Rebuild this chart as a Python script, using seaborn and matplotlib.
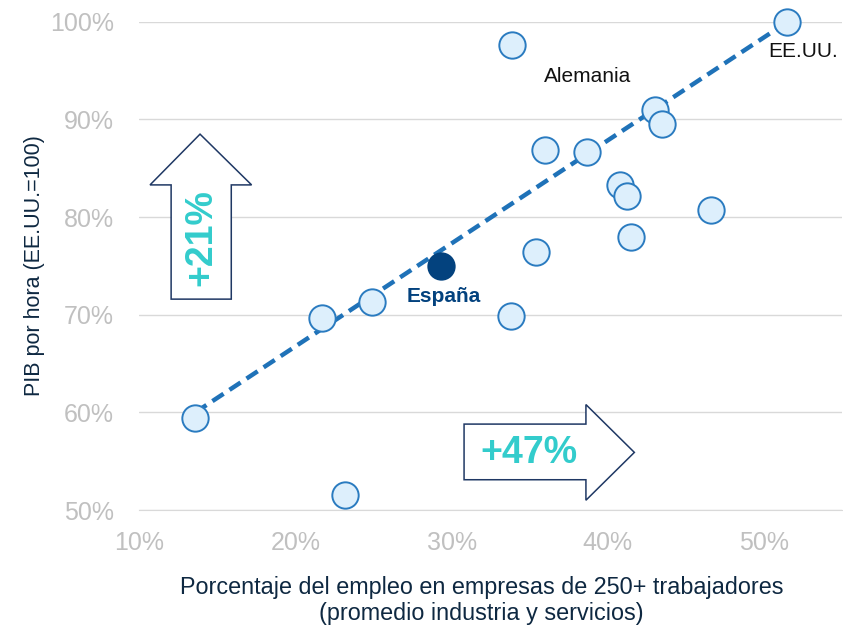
import pandas as pd
import matplotlib.pyplot as plt
import seaborn as sns
from matplotlib.patches import Polygon
from matplotlib.ticker import FuncFormatter

# Data (% employment in 250+ firms, GDP per hour US=100)
countries = ["", "", "", "", "España", "", "", "", "", "", "", "", "", "Alemania", "", "", "EE.UU."]
empleo_250 = [13.6, 21.7, 23.2, 24.9, 29.3, 33.8, 33.9, 35.4, 36.0, 38.7, 40.8, 41.2, 41.5, 43.0, 43.5, 46.6, 51.5]
pib_hora = [59.4, 69.7, 51.5, 71.3, 75.0, 69.9, 97.6, 76.4, 86.9, 86.7, 83.3, 82.2, 78.0, 91.0, 89.5, 80.7, 100.0]

# Trend line endpoints
trend_x = [13.6, 51.5]
trend_y = [60.0, 100.0]

x_ticks = [10, 20, 30, 40, 50]
y_ticks = [50, 60, 70, 80, 90, 100]

df = pd.DataFrame({"pais": countries, "empleo": empleo_250, "pib": pib_hora})
df["grupo"] = ["España" if c == "España" else "Otros" for c in countries]

sns.set_style("white")
plt.rcParams["font.family"] = ["Liberation Sans", "DejaVu Sans"]

fig = plt.figure(figsize=(8.43, 6.25), dpi=100)
ax = fig.add_axes([0.165, 0.184, 0.834, 0.781])

navy = "#0E2841"
blue = "#1F72B8"
grey = "#C0C0C0"
teal = "#33CCCC"

# Trend line
sns.lineplot(x=trend_x, y=trend_y, ax=ax, color=blue, lw=3.2, linestyle=(0, (3, 1.6)), zorder=2)

# Points
sns.scatterplot(data=df[df.grupo == "Otros"], x="empleo", y="pib", ax=ax, s=360,
                color="#DDEFFC", edgecolor="#2A7BC0", linewidth=1.4, zorder=3, clip_on=False)
sns.scatterplot(data=df[df.grupo == "España"], x="empleo", y="pib", ax=ax, s=360,
                color="#03427E", edgecolor="#03427E", linewidth=1.4, zorder=4, clip_on=False)

# Labels
ax.text(29.5, 71.9, "España", color="#03427E", fontsize=15, fontweight="bold", ha="center", va="center")
ax.text(38.7, 94.4, "Alemania", color="#111111", fontsize=15, ha="center", va="center")
ax.text(52.5, 97.0, "EE.UU.", color="#111111", fontsize=15, ha="center", va="center")

# Arrows
up = Polygon([(12.05, 71.6), (12.05, 83.3), (10.7, 83.3), (13.9, 88.5), (17.2, 83.3),
              (15.9, 83.3), (15.9, 71.6)], closed=True, facecolor="white",
             edgecolor="#1F3864", lw=1.1, zorder=5)
ax.add_patch(up)
ax.text(14.0, 77.9, "+21%", color=teal, fontsize=27, fontweight="bold", rotation=90,
        ha="center", va="center", zorder=6)

right = Polygon([(30.8, 53.1), (30.8, 58.8), (38.6, 58.8), (38.6, 60.8), (41.7, 55.9),
                 (38.6, 51.0), (38.6, 53.1)], closed=True, facecolor="white",
                edgecolor="#1F3864", lw=1.1, zorder=5)
ax.add_patch(right)
ax.text(34.95, 55.8, "+47%", color=teal, fontsize=27, fontweight="bold",
        ha="center", va="center", zorder=6)

# Axes styling
ax.set_xlim(10, 55)
ax.set_ylim(50, 100)
ax.set_xticks(x_ticks)
ax.set_yticks(y_ticks)
ax.xaxis.set_major_formatter(FuncFormatter(lambda v, p: f"{v:.0f}%"))
ax.yaxis.set_major_formatter(FuncFormatter(lambda v, p: f"{v:.0f}%"))
ax.grid(axis="y", color="#D9D9D9", lw=1)
ax.set_axisbelow(True)
for s in ["top", "right", "left"]:
    ax.spines[s].set_visible(False)
ax.spines["bottom"].set_color("#D9D9D9")
ax.tick_params(axis="x", colors="#D9D9D9", labelcolor=grey, labelsize=18, length=6, pad=9)
ax.tick_params(axis="y", length=0, labelcolor=grey, labelsize=18, pad=18)
ax.set_xlabel("Porcentaje del empleo en empresas de 250+ trabajadores\n(promedio industria y servicios)",
              color=navy, fontsize=16.8, labelpad=15, linespacing=1.15)
ax.xaxis.set_label_coords(0.487, -0.135)
ax.set_ylabel("PIB por hora (EE.UU.=100)", color=navy, fontsize=15.5, labelpad=4)

plt.savefig("out.png", dpi=100)
